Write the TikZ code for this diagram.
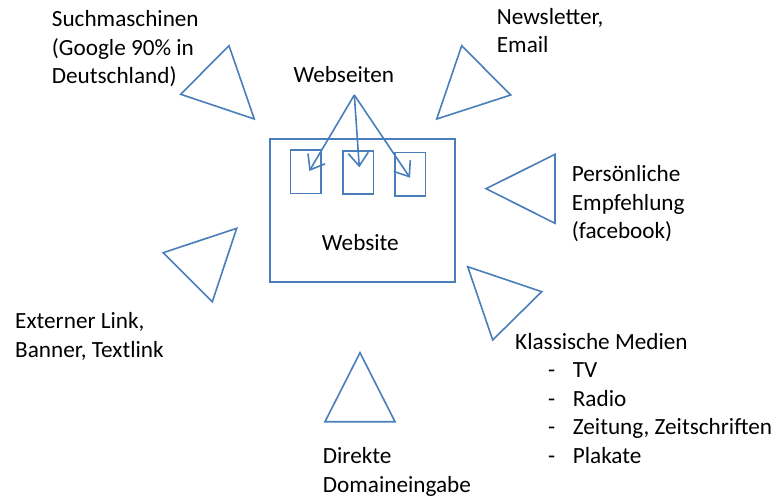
\documentclass[tikz,border=0pt]{standalone}
\usepackage{fontspec}
\setmainfont{Carlito}
\usetikzlibrary{arrows.meta}
\definecolor{shapeblue}{RGB}{74,126,187}
\newcommand{\listitem}[1]{\hspace*{33pt}\makebox[24.7pt][l]{-}#1}

\begin{document}
\begin{tikzpicture}[x=1pt,y=-1pt,
  outline/.style={draw=shapeblue,line width=1.6pt,line join=miter},
  page/.style={outline,minimum width=30.5pt,minimum height=43.4pt,inner sep=0pt},
  link/.style={draw=shapeblue,line width=1.6pt,-{Straight Barb[length=13pt,width=20pt,line width=1.6pt]}},
  caption/.style={anchor=base west,inner sep=0pt,align=left,text=black,font=\fontsize{23.2}{28.5}\selectfont}]
\useasboundingbox (0,0) rectangle (781,500);
\draw[outline] (270.000,139.000) rectangle (455.000,282.000);
\node[page] (page1) at (305.900,171.700) {};
\node[page] (page2) at (358.200,172.500) {};
\node[page] (page3) at (410.300,174.300) {};
\node[caption] (webseiten) at (293.300,82.700) {Webseiten};
\node[caption] (website) at (321.700,250.000) {Website};
\coordinate (fork) at (354.300,95.000);
\draw[link] (fork) -- ([shift={(3.4pt,0.7pt)}]page1.center);
\draw[link] (fork) -- ([shift={(1.1pt,5.2pt)}]page2.center);
\draw[link] (fork) -- ([shift={(-0.3pt,-3.4pt)}]page3.center);
\draw[outline] (229.000,45.700) -- (180.700,94.300) -- (254.300,119.000) -- cycle;
\draw[outline] (461.700,45.700) -- (510.700,95.000) -- (436.700,119.000) -- cycle;
\draw[outline] (486.000,188.700) -- (555.000,154.300) -- (555.000,223.300) -- cycle;
\draw[outline] (467.700,266.700) -- (541.700,291.700) -- (492.700,340.000) -- cycle;
\draw[outline] (163.300,252.700) -- (236.700,228.300) -- (212.300,301.700) -- cycle;
\draw[outline] (360.000,352.700) -- (325.000,421.700) -- (395.000,421.700) -- cycle;
\node[caption] (suche) at (51.700,83.700) {Suchmaschinen\\(Google 90\% in\\Deutschland)};
\node[caption] (newsletter) at (496.700,52.800) {Newsletter,\\Email};
\node[caption] (empfehlung) at (571.700,238.500) {Persönliche\\Empfehlung\\(facebook)};
\node[caption] (extern) at (15.000,357.300) {Externer Link,\\Banner, Textlink};
\node[caption] (medien) at (515.000,463.000) {Klassische Medien\\\listitem{TV}\\\listitem{Radio}\\\listitem{Zeitung, Zeitschriften}\\\listitem{Plakate}};
\node[caption] (direkt) at (322.700,492.300) {Direkte\\Domaineingabe};
\end{tikzpicture}
\end{document}
